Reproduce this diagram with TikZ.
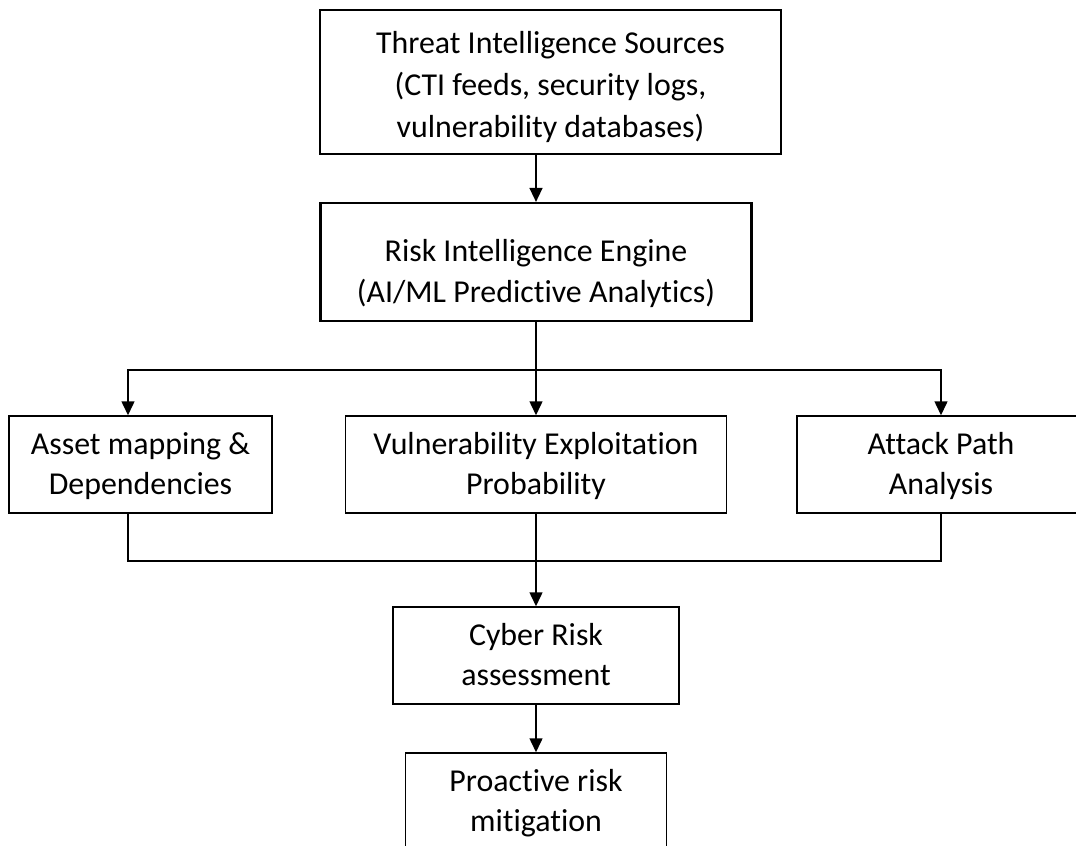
\documentclass[tikz,border=0pt]{standalone}
\usepackage{fontspec}
\setmainfont{Carlito}[Ligatures={NoCommon}]
\usepackage{tikz}
\usetikzlibrary{arrows.meta}

\tikzset{
  stage/.style={draw, line width=1.5bp, align=center, inner sep=0pt,
    font=\fontsize{32}{40}\selectfont, text height=60bp, text depth=0bp},
  mainstage/.style={stage, line width=2.2bp},
  flow/.style={line width=1.5bp},
  flowarrow/.style={flow, -{Triangle[width=13bp,length=14bp]}}
}

\begin{document}
\begin{tikzpicture}[x=1bp,y=-1bp]
              \useasboundingbox (0,0) rectangle (1076,846);

              % source and engine
              \node[mainstage, minimum width=461bp, minimum height=144bp,
                font=\fontsize{32}{42}\selectfont, text height=111bp] (threat) at (550.5,82)
                {Threat Intelligence Sources\\(CTI feeds, security logs,\\vulnerability databases)};
              \node[mainstage, minimum width=431bp, minimum height=118bp,
                font=\fontsize{32}{41}\selectfont, text height=80bp] (engine) at (536,262)
                {Risk Intelligence Engine\\(AI/ML Predictive Analytics)};

              % analysis stages
              \node[stage, minimum width=263bp, minimum height=97bp] (asset) at (140.5,464.5)
                {Asset mapping \&\\Dependencies};
              \node[stage, minimum width=381bp, minimum height=97bp] (vuln) at (536,464.5)
                {Vulnerability Exploitation\\Probability};
              \node[stage, minimum width=288bp, minimum height=97bp] (attack) at (941,464.5)
                {Attack Path\\Analysis};

              % outcome
              \node[stage, minimum width=286bp, minimum height=97bp] (cyber) at (536,655.5)
                {Cyber Risk\\assessment};
              \node[stage, minimum width=261bp, minimum height=97bp] (mitig) at (536,801.5)
                {Proactive risk\\mitigation};

              \coordinate (split) at (536,370);
              \coordinate (join)  at (536,561);

              \path (threat.south -| engine.north)  edge[flowarrow] (engine.north)
              (engine.south)                        edge[flow]      (split)
              (split)                               edge[flowarrow] (vuln.north)
              (vuln.south)                          edge[flowarrow] (cyber.north)
              (cyber.south)                         edge[flowarrow] (mitig.north);

              \draw[flowarrow] (split) -| ([xshift=-12.5bp]asset.north);
              \draw[flowarrow] (split) -| (attack.north);
              \draw[flow] ([xshift=-12.5bp]asset.south) |- (join) -| (attack.south);
            \end{tikzpicture}
\end{document}
